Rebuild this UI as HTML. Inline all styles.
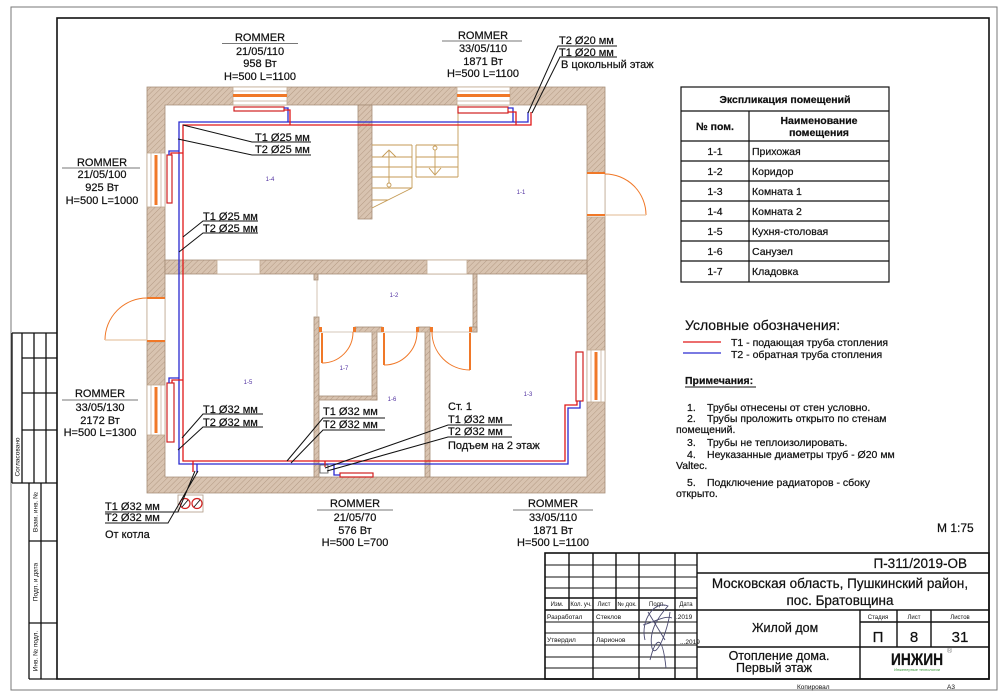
<!DOCTYPE html>
<html><head><meta charset="utf-8"><style>
html,body{margin:0;padding:0;background:#fff;}
svg{display:block;}
text{font-family:"Liberation Sans",Arial,sans-serif;fill:#111;stroke:#111;stroke-width:0.22px;}
text.nr{stroke:none;}
</style></head><body>
<svg width="1000" height="699" viewBox="0 0 1000 699" xmlns="http://www.w3.org/2000/svg">
<defs>
<pattern id="h" width="4" height="4" patternUnits="userSpaceOnUse" patternTransform="rotate(45)">
<rect width="4" height="4" fill="#d8c3b0"/>
<line x1="0" y1="0" x2="0" y2="4" stroke="#b0967f" stroke-width="0.9"/>
</pattern>
</defs>
<rect width="1000" height="699" fill="#fff"/>

<!-- page borders -->
<rect x="11" y="7" width="986" height="683" fill="none" stroke="#777" stroke-width="1"/>
<rect x="57" y="18" width="932" height="661" fill="none" stroke="#111" stroke-width="1.6"/>

<!-- left stamp -->
<g stroke="#111" stroke-width="1.3" fill="none">
<path d="M12 333 H57 M12 333 V483 M12 483 H57 M22 333 V483 M34 333 V483 M46 333 V483 M22 358 H57 M22 393 H57 M22 430 H57"/>
<path d="M29 483 V679 M41 483 V679 M29 541 H57 M29 623 H57 M29 679 H57"/>
</g>
<g font-size="6.5">
<text class="nr" transform="translate(19.5,457) rotate(-90)" text-anchor="middle">Согласовано</text>
<text class="nr" transform="translate(37.5,512) rotate(-90)" text-anchor="middle">Взам. инв. №</text>
<text class="nr" transform="translate(37.5,582) rotate(-90)" text-anchor="middle">Подп. и дата</text>
<text class="nr" transform="translate(37.5,651) rotate(-90)" text-anchor="middle">Инв. № подл.</text>
</g>

<!-- walls -->
<g fill="url(#h)" stroke="#a58d77" stroke-width="0.8">
<path d="M147 87 H605 V493 H147 Z M165 105 V477 H587 V105 Z" fill-rule="evenodd"/>
<rect x="165" y="260" width="422" height="14"/>
<rect x="358" y="105" width="14" height="114"/>
<rect x="314" y="317" width="5" height="160"/>
<rect x="314" y="274" width="4" height="6"/>
<rect x="473" y="274" width="4" height="58"/>
<rect x="355" y="327" width="27" height="5"/>
<rect x="418" y="327" width="12" height="5"/>
<rect x="470" y="327" width="7" height="5"/>
<rect x="372" y="332" width="5" height="68"/>
<rect x="319" y="396" width="58" height="4"/>
<rect x="425" y="332" width="5" height="145"/>
</g>
<g stroke="#c8b4a0" stroke-width="0.8" fill="none">
<line x1="317" y1="280" x2="317" y2="317"/>
<line x1="319" y1="332" x2="473" y2="332"/>
</g>

<!-- openings -->
<g fill="#fff" stroke="#c0a890" stroke-width="0.8">
<rect x="233" y="87" width="54" height="18"/>
<rect x="457" y="87" width="53" height="18"/>
<rect x="147" y="153" width="18" height="54"/>
<rect x="147" y="385" width="18" height="50"/>
<rect x="587" y="350" width="18" height="52"/>
<rect x="147" y="298" width="18" height="44"/>
<rect x="587" y="173" width="18" height="44"/>
<rect x="217" y="260" width="43" height="14"/>
<rect x="427" y="260" width="40" height="14"/>
</g>
<g stroke="#c0a890" stroke-width="0.7">
<line x1="233" y1="91" x2="287" y2="91"/><line x1="233" y1="101" x2="287" y2="101"/>
<line x1="457" y1="91" x2="510" y2="91"/><line x1="457" y1="101" x2="510" y2="101"/>
<line x1="151" y1="153" x2="151" y2="207"/><line x1="161" y1="153" x2="161" y2="207"/>
<line x1="151" y1="385" x2="151" y2="435"/><line x1="161" y1="385" x2="161" y2="435"/>
<line x1="591" y1="350" x2="591" y2="402"/><line x1="601" y1="350" x2="601" y2="402"/>
</g>
<g fill="#f07828">
<rect x="233" y="94" width="54" height="3"/>
<rect x="457" y="94" width="53" height="3"/>
<rect x="154.5" y="155" width="3" height="50"/>
<rect x="154.5" y="387" width="3" height="46"/>
<rect x="594.5" y="352" width="3" height="48"/>
<rect x="147" y="297" width="18" height="2"/>
<rect x="147" y="340" width="18" height="2"/>
<rect x="587" y="172" width="18" height="2"/>
<rect x="587" y="214" width="18" height="2"/>
<rect x="319" y="327" width="3" height="5"/>
<rect x="353" y="327" width="3" height="5"/>
<rect x="381" y="327" width="3" height="5"/>
<rect x="416" y="327" width="3" height="5"/>
<rect x="430" y="327" width="3" height="5"/>
<rect x="469" y="327" width="3" height="5"/>
<rect x="321" y="333" width="2" height="30"/>
<rect x="383" y="333" width="2" height="32"/>
<rect x="469" y="333" width="2" height="37"/>
</g>
<g fill="none" stroke="#f07828" stroke-width="1">
<path d="M147 298 A42 42 0 0 0 105 340"/>
<path d="M605 174 A41 41 0 0 1 646 215"/>
<path d="M322 363 A31 31 0 0 0 353 332"/>
<path d="M384 365 A33 33 0 0 0 417 332"/>
<path d="M470 370 A38 38 0 0 1 432 332"/>
</g>
<g stroke="#e8c8a8" stroke-width="1.2">
<line x1="105" y1="340" x2="147" y2="340"/>
<line x1="605" y1="215" x2="646" y2="215"/>
</g>

<!-- stair -->
<g stroke="#c49a55" stroke-width="0.9" fill="none">
<line x1="458" y1="105" x2="458" y2="177"/>
<path d="M372 145 H412 M372 157 H412 M372 167 H412 M372 177 H412 M372 188 H412 M372 200 H388"/>
<path d="M416 145 H458 M416 157 H458 M416 167 H458 M416 177 H458"/>
<line x1="412" y1="145" x2="412" y2="188"/>
<line x1="416" y1="145" x2="416" y2="177"/>
<line x1="372" y1="208" x2="412" y2="188"/>
<line x1="389" y1="151" x2="389" y2="183"/>
<path d="M382 157 L389 150 L396 157"/>
<circle cx="389" cy="185" r="2"/>
<line x1="435" y1="150" x2="435" y2="174"/>
<path d="M429 168 L435 175 L441 168"/>
<circle cx="435" cy="148" r="2"/>
</g>

<!-- radiators -->
<g fill="#fff" stroke="#d02020" stroke-width="1.2">
<rect x="234" y="107" width="50" height="4"/>
<rect x="458" y="107" width="50" height="6"/>
<rect x="167" y="155" width="5" height="48"/>
<rect x="167" y="383" width="7" height="59"/>
<rect x="576" y="352" width="7" height="49"/>
<rect x="340" y="473" width="33" height="4"/>
</g>

<!-- pipes -->
<g fill="none" stroke-width="1.3">
<path stroke="#2a2ad0" d="M528 112 V122 H179 V464 H568 V408 H580 V401"/>
<path stroke="#e01818" d="M531 112 V125 H183 V461 H565 V405 H577 V401"/>
<path stroke="#2a2ad0" d="M284 108 H288 V122"/>
<path stroke="#e01818" d="M284 110 H290 V125"/>
<path stroke="#2a2ad0" d="M508 108 H513 V122"/>
<path stroke="#e01818" d="M508 112 H516 V125"/>
<path stroke="#2a2ad0" d="M169 155 V151 H179"/>
<path stroke="#e01818" d="M171 155 V153 H183"/>
<path stroke="#2a2ad0" d="M169 383 V378 H179"/>
<path stroke="#e01818" d="M172 383 V380 H183"/>
<path stroke="#e01818" d="M193 461 V472"/>
<path stroke="#2a2ad0" d="M197 464 V473"/>
<path stroke="#e01818" d="M325 461 V467"/>
<path stroke="#2a2ad0" d="M334 464 V475 H340"/>
</g>
<rect x="320" y="465" width="8" height="8" fill="none" stroke="#555" stroke-width="0.8"/>

<!-- valves -->
<rect x="178" y="495" width="25" height="17" fill="#fff" stroke="#b09a85" stroke-width="0.8"/>
<g fill="#fff" stroke="#d02020" stroke-width="1.2">
<circle cx="185" cy="503.5" r="5"/>
<circle cx="197" cy="503.5" r="5"/>
</g>
<g stroke="#111" stroke-width="0.9">
<line x1="182" y1="507" x2="188" y2="500"/>
<line x1="194" y1="507" x2="200" y2="500"/>
</g>

<!-- room labels -->
<g font-size="6" text-anchor="middle">
<text class="nr" x="270" y="181" style="fill:#5030a0">1-4</text>
<text class="nr" x="521" y="194" style="fill:#5030a0">1-1</text>
<text class="nr" x="394" y="297" style="fill:#5030a0">1-2</text>
<text class="nr" x="248" y="384" style="fill:#5030a0">1-5</text>
<text class="nr" x="344" y="370" style="fill:#5030a0">1-7</text>
<text class="nr" x="392" y="401" style="fill:#5030a0">1-6</text>
<text class="nr" x="528" y="396" style="fill:#5030a0">1-3</text>
</g>

<!-- leaders -->
<g stroke="#111" stroke-width="1" fill="none">
<path d="M183 125 L252 142 H311 M178 139 L252 155 H311"/>
<path d="M183 237 L203 221 H258 M179 252 L203 233 H258"/>
<path d="M182 438 L203 414 H263 M178 450 L203 427 H263"/>
<path d="M287 461 L323 418 H385 M291 463 L323 430 H385"/>
<path d="M325 468 L448 425 H512 M327 471 L448 437 H512"/>
<path d="M528 113 L558 46 H617 M532 113 L560 57 H617"/>
<path d="M195 471 L178 512 H105 M198 471 L168 523 H105"/>
</g>
<g font-size="11">
<text x="255" y="141">T1 Ø25 мм</text>
<text x="255" y="153">T2 Ø25 мм</text>
<text x="203" y="220">T1 Ø25 мм</text>
<text x="203" y="232">T2 Ø25 мм</text>
<text x="203" y="413">T1 Ø32 мм</text>
<text x="203" y="426">T2 Ø32 мм</text>
<text x="323" y="415">T1 Ø32 мм</text>
<text x="323" y="428">T2 Ø32 мм</text>
<text x="448" y="410">Ст. 1</text>
<text x="448" y="423">T1 Ø32 мм</text>
<text x="448" y="435">T2 Ø32 мм</text>
<text x="448" y="449">Подъем на 2 этаж</text>
<text x="559" y="44">T2 Ø20 мм</text>
<text x="559" y="56">T1 Ø20 мм</text>
<text x="561" y="68">В цокольный этаж</text>
<text x="105" y="510">T1 Ø32 мм</text>
<text x="105" y="521">T2 Ø32 мм</text>
<text x="105" y="538">От котла</text>
</g>

<!-- ROMMER labels -->
<g font-size="11" text-anchor="middle">
<text x="260" y="41">ROMMER</text>
<text x="260" y="55">21/05/110</text>
<text x="260" y="67">958 Вт</text>
<text x="260" y="80">H=500 L=1100</text>
<text x="483" y="39">ROMMER</text>
<text x="483" y="52">33/05/110</text>
<text x="483" y="65">1871 Вт</text>
<text x="483" y="77">H=500 L=1100</text>
<text x="102" y="166">ROMMER</text>
<text x="102" y="178">21/05/100</text>
<text x="102" y="191">925 Вт</text>
<text x="102" y="204">H=500 L=1000</text>
<text x="100" y="397">ROMMER</text>
<text x="100" y="411">33/05/130</text>
<text x="100" y="424">2172 Вт</text>
<text x="100" y="436">H=500 L=1300</text>
<text x="355" y="507">ROMMER</text>
<text x="355" y="521">21/05/70</text>
<text x="355" y="534">576 Вт</text>
<text x="355" y="546">H=500 L=700</text>
<text x="553" y="507">ROMMER</text>
<text x="553" y="521">33/05/110</text>
<text x="553" y="534">1871 Вт</text>
<text x="553" y="546">H=500 L=1100</text>
</g>
<g stroke="#777" stroke-width="1">
<line x1="222" y1="43.5" x2="298" y2="43.5"/>
<line x1="442" y1="41" x2="522" y2="41"/>
<line x1="62" y1="168" x2="140" y2="168"/>
<line x1="62" y1="400" x2="138" y2="400"/>
<line x1="317" y1="510" x2="393" y2="510"/>
<line x1="513" y1="510" x2="593" y2="510"/>
</g>

<!-- explication table -->
<g stroke="#111" stroke-width="1.2" fill="none">
<rect x="681" y="87" width="208" height="195"/>
<path d="M681 111 H889 M681 141 H889 M681 161 H889 M681 181 H889 M681 201 H889 M681 221 H889 M681 241 H889 M681 261 H889 M749 111 V282"/>
</g>
<g font-size="10.5">
<text x="785" y="103" text-anchor="middle" font-weight="bold">Экспликация помещений</text>
<text x="715" y="130" text-anchor="middle" font-weight="bold">№ пом.</text>
<text x="819" y="124" text-anchor="middle" font-weight="bold">Наименование</text>
<text x="819" y="136" text-anchor="middle" font-weight="bold">помещения</text>
<text x="715" y="155" text-anchor="middle">1-1</text><text x="752" y="155">Прихожая</text>
<text x="715" y="175" text-anchor="middle">1-2</text><text x="752" y="175">Коридор</text>
<text x="715" y="195" text-anchor="middle">1-3</text><text x="752" y="195">Комната 1</text>
<text x="715" y="215" text-anchor="middle">1-4</text><text x="752" y="215">Комната 2</text>
<text x="715" y="235" text-anchor="middle">1-5</text><text x="752" y="235">Кухня-столовая</text>
<text x="715" y="255" text-anchor="middle">1-6</text><text x="752" y="255">Санузел</text>
<text x="715" y="275" text-anchor="middle">1-7</text><text x="752" y="275">Кладовка</text>
</g>

<!-- legend -->
<text x="685" y="330" font-size="14">Условные обозначения:</text>
<line x1="683" y1="342" x2="721" y2="342" stroke="#e01818" stroke-width="1.3"/>
<line x1="683" y1="353" x2="721" y2="353" stroke="#2a2ad0" stroke-width="1.3"/>
<g font-size="10.5">
<text x="731" y="346">T1 - подающая труба стопления</text>
<text x="731" y="358">T2 - обратная труба стопления</text>
<text x="685" y="384" font-weight="bold">Примечания:</text>
<text x="687" y="411">1.</text><text x="707" y="411">Трубы отнесены от стен условно.</text>
<text x="687" y="422">2.</text><text x="707" y="422">Трубы проложить открыто по стенам</text>
<text x="676" y="433">помещений.</text>
<text x="687" y="446">3.</text><text x="707" y="446">Трубы не теплоизолировать.</text>
<text x="687" y="458">4.</text><text x="707" y="458">Неуказанные диаметры труб - Ø20 мм</text>
<text x="676" y="469">Valtec.</text>
<text x="687" y="486">5.</text><text x="707" y="486">Подключение радиаторов - сбоку</text>
<text x="676" y="497">открыто.</text>
</g>
<line x1="685" y1="387" x2="756" y2="387" stroke="#111" stroke-width="1"/>
<text x="937" y="532" font-size="12">М 1:75</text>

<!-- title block -->
<g stroke="#111" fill="none">
<rect x="545" y="553" width="444" height="126" stroke-width="1.6"/>
<path stroke-width="1.4" d="M569 553 V610 M616 553 V610 M593 553 V679 M639 553 V679 M675 553 V679 M697 553 V679 M545 598 H697 M545 610 H989 M697 573 H989 M697 647 H989 M860 610 V679 M897 610 V647 M931 610 V647 M860 622 H989"/>
<path stroke-width="0.9" d="M545 565 H697 M545 577 H697 M545 588 H697 M545 622 H697 M545 633 H697 M545 645 H697 M545 657 H697 M545 668 H697"/>
</g>
<g font-size="6" text-anchor="middle">
<text class="nr" x="557" y="606">Изм.</text>
<text class="nr" x="581" y="606">Кол. уч.</text>
<text class="nr" x="604" y="606">Лист</text>
<text class="nr" x="627" y="606">№ док.</text>
<text class="nr" x="657" y="606">Подп.</text>
<text class="nr" x="686" y="606">Дата</text>
<text class="nr" x="878" y="619">Стадия</text>
<text class="nr" x="914" y="619">Лист</text>
<text class="nr" x="960" y="619">Листов</text>
</g>
<g font-size="6.5">
<text class="nr" x="547" y="619">Разработал</text>
<text class="nr" x="596" y="619">Стеклов</text>
<text class="nr" x="676" y="619">.2019</text>
<text class="nr" x="547" y="642">Утвердил</text>
<text class="nr" x="596" y="642">Ларионов</text>
<text class="nr" x="680" y="644">...2019</text>
<text class="nr" x="797" y="689">Копировал</text>
<text class="nr" x="947" y="689">А3</text>
</g>
<path d="M645 640 C640 620,655 600,668 606 C660 615,648 630,652 648 C656 660,668 630,670 612 M650 660 C655 640,662 630,666 668 M643 625 C655 622,664 615,672 618 M648 612 L665 640" fill="none" stroke="#4a4a70" stroke-width="0.9"/>
<text x="967" y="568" font-size="13.5" text-anchor="end">П-311/2019-ОВ</text>
<text x="840" y="588" font-size="13.5" text-anchor="middle">Московская область, Пушкинский район,</text>
<text x="840" y="605" font-size="13.5" text-anchor="middle">пос. Братовщина</text>
<text x="752" y="632" font-size="12.5">Жилой дом</text>
<text x="878" y="642" font-size="15" text-anchor="middle">П</text>
<text x="914" y="642" font-size="15" text-anchor="middle">8</text>
<text x="960" y="642" font-size="15" text-anchor="middle">31</text>
<text x="779" y="660" font-size="12.5" text-anchor="middle">Отопление дома.</text>
<text x="774" y="672" font-size="12.5" text-anchor="middle">Первый этаж</text>
<text x="917" y="665" font-size="17" font-weight="bold" text-anchor="middle" textLength="52" lengthAdjust="spacingAndGlyphs">ИНЖИН</text>
<text class="nr" x="947" y="653" font-size="7" style="fill:#777">®</text>
<text class="nr" x="917" y="671" font-size="4" text-anchor="middle" style="fill:#3a9a3a">Инженерные технологии</text>
</svg>
</body></html>
